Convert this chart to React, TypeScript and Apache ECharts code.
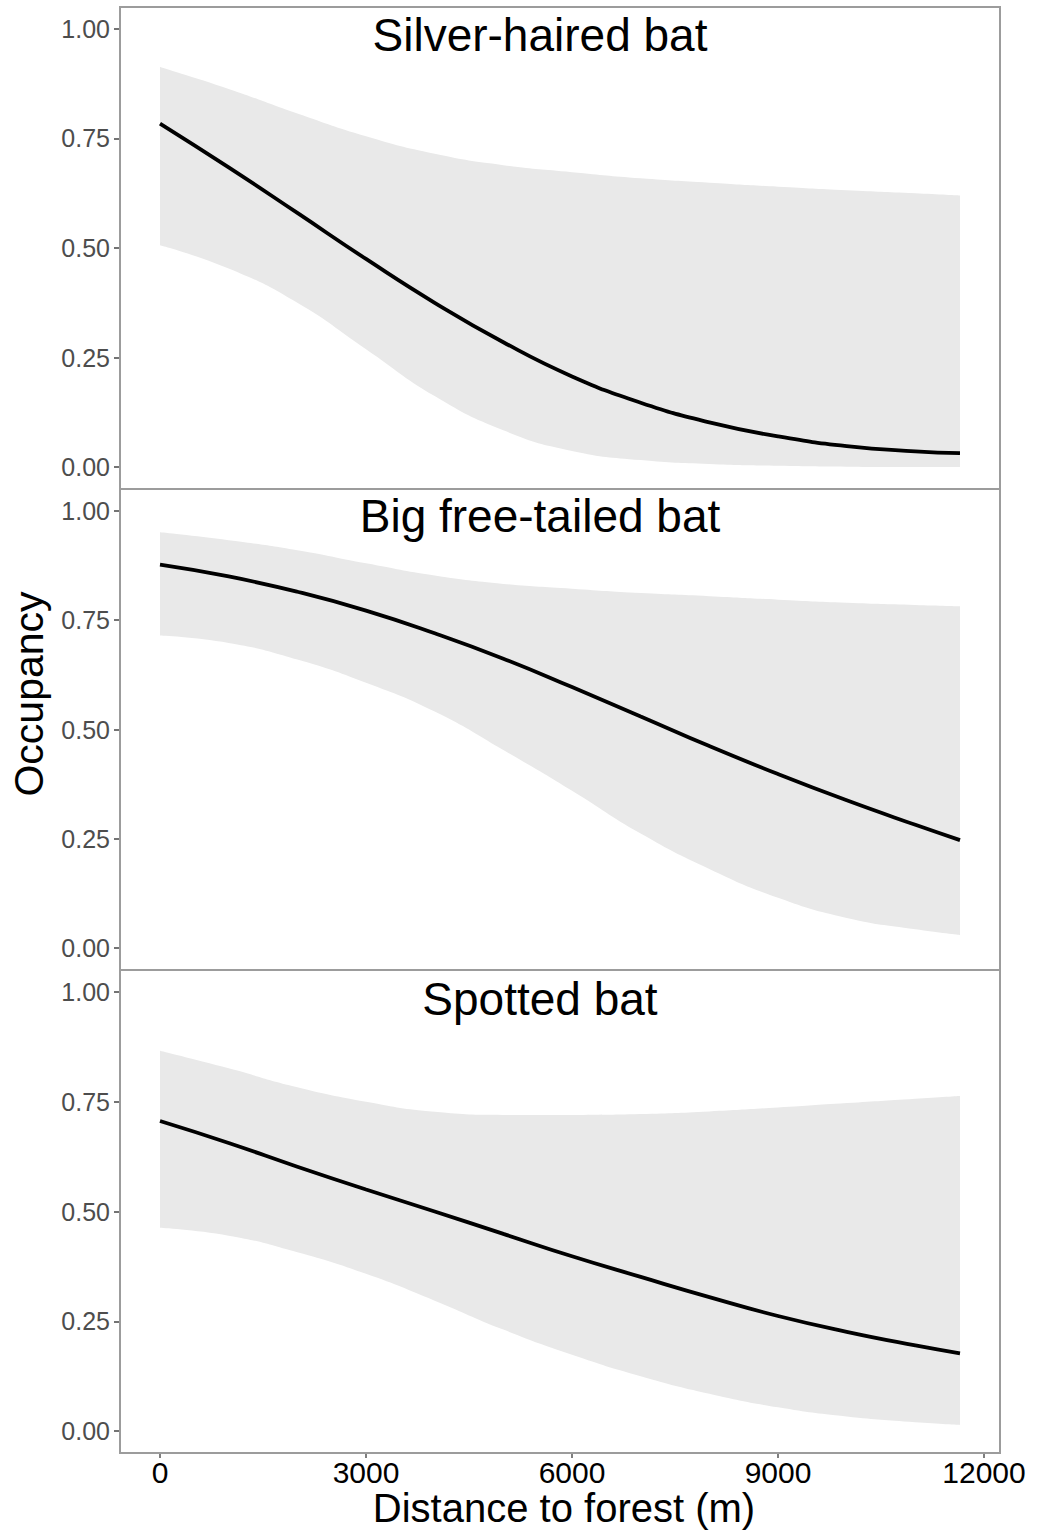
import React, { useEffect, useRef } from "react";
import * as echarts from "echarts";

// Distance to forest (m) sample positions
const distance = [0, 1000, 2000, 3000, 4000, 5000, 6000, 7000, 8000, 9000, 10000, 11000, 11650];

// Silver-haired bat
const silverFit = [0.784, 0.684, 0.58, 0.475, 0.375, 0.285, 0.207, 0.147, 0.102, 0.07, 0.048, 0.036, 0.032];
const silverLow = [0.506, 0.453, 0.375, 0.269, 0.162, 0.084, 0.037, 0.016, 0.007, 0.003, 0.001, 0.0, 0.0];
const silverHigh = [0.913, 0.863, 0.807, 0.755, 0.715, 0.689, 0.673, 0.659, 0.649, 0.64, 0.632, 0.625, 0.62];

// Big free-tailed bat
const bigFit = [0.877, 0.85, 0.815, 0.772, 0.72, 0.662, 0.597, 0.53, 0.462, 0.398, 0.338, 0.282, 0.247];
const bigLow = [0.715, 0.698, 0.66, 0.607, 0.541, 0.453, 0.36, 0.262, 0.181, 0.115, 0.069, 0.043, 0.03];
const bigHigh = [0.951, 0.933, 0.91, 0.88, 0.852, 0.833, 0.822, 0.812, 0.805, 0.797, 0.79, 0.785, 0.782];

// Spotted bat
const spottedFit = [0.706, 0.656, 0.602, 0.55, 0.5, 0.449, 0.398, 0.351, 0.305, 0.262, 0.226, 0.195, 0.177];
const spottedLow = [0.463, 0.445, 0.407, 0.358, 0.297, 0.231, 0.174, 0.125, 0.085, 0.054, 0.033, 0.02, 0.014];
const spottedHigh = [0.866, 0.826, 0.783, 0.75, 0.727, 0.72, 0.72, 0.722, 0.728, 0.737, 0.747, 0.757, 0.763];

const panelTitles = ["Silver-haired bat", "Big free-tailed bat", "Spotted bat"];
const xTickValues = [0, 3000, 6000, 9000, 12000];
const yTickValues = [0, 0.25, 0.5, 0.75, 1];
const xAxisTitle = "Distance to forest (m)";
const yAxisTitle = "Occupancy";

const panels = [
  { fit: silverFit, low: silverLow, high: silverHigh },
  { fit: bigFit, low: bigLow, high: bigHigh },
  { fit: spottedFit, low: spottedLow, high: spottedHigh },
];

const GRID_LEFT = 120;
const GRID_WIDTH = 880;
const gridBoxes = [
  { top: 7, height: 482 },
  { top: 489, height: 481 },
  { top: 970, height: 483 },
];
const titleY = [35, 516, 999];

const FONT = "'Liberation Sans', Arial, Helvetica, sans-serif";
const BAND = "#e9e9e9";
const BORDER = "#9c9c9c";
const SMOOTH = 0.5;

export default function App() {
  const ref = useRef<HTMLDivElement>(null);

  useEffect(() => {
    if (!ref.current) return;
    const chart = echarts.init(ref.current, null, { renderer: "svg" });

    const grid = gridBoxes.map((g) => ({
      left: GRID_LEFT,
      width: GRID_WIDTH,
      top: g.top,
      height: g.height,
      show: false,
      containLabel: false,
    }));

    const xAxis = gridBoxes.map((_, i) => ({
      type: "value",
      gridIndex: i,
      min: -582.5,
      max: 12232.5,
      axisLine: { show: false, onZero: false },
      splitLine: { show: false },
      axisTick: {
        show: i === 2,
        customValues: xTickValues,
        length: 5,
        lineStyle: { color: "#555", width: 1.5 },
      },
      axisLabel: {
        show: i === 2,
        customValues: xTickValues,
        margin: 6,
        color: "#000",
        fontSize: 30,
        lineHeight: 26,
        fontFamily: FONT,
        formatter: (v: number) => String(v),
      },
    }));

    const yAxis = gridBoxes.map((_, i) => ({
      type: "value",
      gridIndex: i,
      min: -0.05,
      max: 1.05,
      axisLine: { show: false, onZero: false },
      splitLine: { show: false },
      axisTick: {
        show: true,
        customValues: yTickValues,
        length: 6,
        lineStyle: { color: "#444", width: 1.5 },
      },
      axisLabel: {
        show: true,
        customValues: yTickValues,
        margin: 10,
        color: "#4d4d4d",
        fontSize: 25,
        fontFamily: FONT,
        formatter: (v: number) => v.toFixed(2),
      },
    }));

    const series: any[] = [];
    panels.forEach((p, i) => {
      // upper confidence limit: grey fill down to the panel bottom
      series.push({
        type: "line",
        xAxisIndex: i,
        yAxisIndex: i,
        data: distance.map((d, k) => [d, p.high[k]]),
        symbol: "none",
        smooth: SMOOTH,
        lineStyle: { width: 0, opacity: 0 },
        areaStyle: { color: BAND, opacity: 1, origin: "start" },
        silent: true,
        z: 1,
      });
      // lower confidence limit: white fill below it, leaving the ribbon
      series.push({
        type: "line",
        xAxisIndex: i,
        yAxisIndex: i,
        data: distance.map((d, k) => [d, p.low[k]]),
        symbol: "none",
        smooth: SMOOTH,
        lineStyle: { width: 0, opacity: 0 },
        areaStyle: { color: "#ffffff", opacity: 1, origin: "start" },
        silent: true,
        z: 2,
      });
      // fitted occupancy
      series.push({
        type: "line",
        xAxisIndex: i,
        yAxisIndex: i,
        data: distance.map((d, k) => [d, p.fit[k]]),
        symbol: "none",
        smooth: SMOOTH,
        lineStyle: { color: "#000", width: 3.8 },
        silent: true,
        z: 3,
      });
    });

    const graphic: any[] = [];
    gridBoxes.forEach((g) => {
      graphic.push({
        type: "rect",
        shape: { x: GRID_LEFT, y: g.top, width: GRID_WIDTH, height: g.height },
        style: { fill: "none", stroke: BORDER, lineWidth: 2 },
        silent: true,
        z: 50,
      });
    });
    panelTitles.forEach((t, i) => {
      graphic.push({
        type: "text",
        x: 540,
        y: titleY[i],
        style: {
          text: t,
          fontSize: 46,
          fontFamily: FONT,
          fill: "#000",
          align: "center",
          verticalAlign: "middle",
        },
        z: 60,
      });
    });
    graphic.push({
      type: "text",
      x: 564,
      y: 1508,
      style: {
        text: xAxisTitle,
        fontSize: 40,
        lineHeight: 40,
        fontFamily: FONT,
        fill: "#000",
        align: "center",
        verticalAlign: "middle",
      },
      z: 60,
    });
    graphic.push({
      type: "text",
      x: 29,
      y: 694,
      rotation: Math.PI / 2,
      style: {
        text: yAxisTitle,
        fontSize: 41,
        fontFamily: FONT,
        fill: "#000",
        align: "center",
        verticalAlign: "middle",
      },
      z: 60,
    });

    chart.setOption({
      animation: false,
      backgroundColor: "#fff",
      grid,
      xAxis,
      yAxis,
      series,
      graphic,
    });

    return () => chart.dispose();
  }, []);

  return (
    <div
      ref={ref}
      style={{ position: "absolute", left: 0, top: 0, width: 1047, height: 1531 }}
    />
  );
}
